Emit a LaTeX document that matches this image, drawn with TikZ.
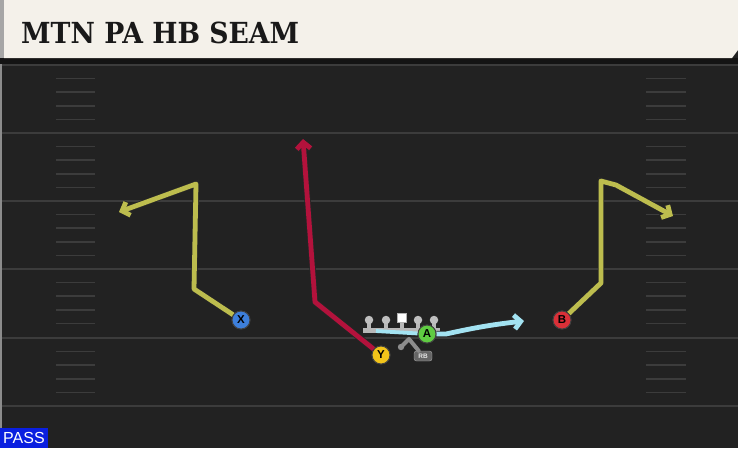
\documentclass[tikz,border=0pt]{standalone}
\usepackage{fontspec}
\setsansfont{Liberation Sans}
\newfontfamily\titlefont{DejaVu Serif}
\usetikzlibrary{arrows.meta}
\definecolor{field}{HTML}{222222}
\definecolor{fieldline}{HTML}{3C3C3C}
\definecolor{header}{HTML}{F4F1EA}
\definecolor{routeyel}{HTML}{BDBD4E}
\definecolor{routered}{HTML}{B3123C}
\definecolor{routecyan}{HTML}{A3E3F2}
\definecolor{xblue}{HTML}{3D7FDB}
\definecolor{yyellow}{HTML}{F3C41A}
\definecolor{agreen}{HTML}{5FCB42}
\definecolor{bred}{HTML}{DA3038}
\definecolor{passblue}{HTML}{0A1FE0}

\begin{document}
\begin{tikzpicture}[x=1pt,y=-1pt,
  route/.style={line width=4.8pt, line join=round, -{Straight Barb[length=6.5pt,width=14pt]},
    preaction={draw=black!85, line width=6.4pt}},
  player/.style={circle, draw=black!75, line width=0.9pt, minimum size=18pt, inner sep=0pt,
    font=\sffamily\bfseries\fontsize{11.5}{11.5}\selectfont},
  lineman/.style={circle, fill=black!25, inner sep=0pt, minimum size=8.5pt}]
  \useasboundingbox (0,0) rectangle (738,448);
  \fill[field] (0,0) rectangle (738,448);

  % yard lines and hashes
  \foreach \y in {65,133,201,269,338,406}
    \draw[fieldline, line width=2pt] (0,\y) -- (738,\y);
  \foreach \y in {65,133,201,269,338}
  {
    \foreach \k in {1,...,4}
    {
      \draw[fieldline, line width=1.6pt] (56,\y+13.6*\k) -- (95,\y+13.6*\k);
      \draw[fieldline, line width=1.6pt] (646,\y+13.6*\k) -- (686,\y+13.6*\k);
    }
  }
  \draw[black!45, line width=1.5pt] (1,64) -- (1,448);

  % header
  \fill[black!92] (0,58) rectangle (738,64);
  \fill[header] (4,0) -- (738,0) -- (738,50) -- (732,58) -- (4,58) -- cycle;
  \fill[black!35] (0,0) rectangle (4,58);
  \node[anchor=base west, inner sep=0pt, text=black!90,
    font=\titlefont\bfseries\fontsize{29}{29}\selectfont] (title) at (21,43)
    {\scalebox{0.92}[1]{MTN PA HB SEAM}};

  % offensive line
  \draw[black!28, line width=5pt] (363,330) -- (440,330);
  \foreach \x/\n in {369/lt,386/lg,418/rg,434/rt}
  {
    \draw[black!28, line width=3.5pt] (\x,321) -- (\x,330);
    \node[lineman] (\n) at (\x,320) {};
  }
  \draw[black!28, line width=3.5pt] (402,321) -- (402,330);
  \node[fill=white, draw=black!30, minimum size=9pt, inner sep=0pt] (center) at (402,318) {};

  % players
  \node[player, fill=xblue] (X) at (241,320) {X};
  \node[player, fill=yyellow] (Y) at (381,355) {Y};
  \node[player, fill=agreen] (A) at (427,334) {A};
  \node[player, fill=bred] (B) at (562,320) {B};
  \node[rounded corners=2.5pt, fill=black!60, draw=black!35, text=black!10, inner sep=0pt,
    minimum width=18pt, minimum height=10pt,
    font=\sffamily\bfseries\fontsize{6.5}{6.5}\selectfont] (RB) at (423,356) {RB};

  \coordinate (xbreak) at (194,289);
  \coordinate (xtop) at (196,184);
  \coordinate (xend) at (119,212);
  \coordinate (ybreak) at (315,302);
  \coordinate (yend) at (303,139);
  \coordinate (abase) at (376,331);
  \coordinate (abend) at (446,334);
  \coordinate (aend) at (524,321);
  \coordinate (bbreak) at (601,283);
  \coordinate (btop) at (601,181);
  \coordinate (bbend) at (616,185);
  \coordinate (bend) at (673,216);
  \coordinate (rbtop) at (409,339);
  \coordinate (rbend) at (401,347);

  % routes
  \draw[route, routeyel] (X) -- (xbreak) -- (xtop) -- (xend);
  \draw[route, routeyel] (B) -- (bbreak) -- (btop) -- (bbend) -- (bend);
  \draw[route, routered] (Y) -- (ybreak) -- (yend);
  \draw[routecyan, line width=3.8pt] (abase) -- (A);
  \draw[route, routecyan] (A) -- (abend) to[bend left=3] (aend);
  \draw[black!45, line width=4pt, line cap=round, line join=round] (RB) -- (rbtop) -- (rbend);
  \fill[black!45] (rbend) circle (3.2pt);
  \node[player, fill=agreen] at (A) {A};
  \node[player, fill=yyellow] at (Y) {Y};
  \node[player, fill=xblue] at (X) {X};
  \node[player, fill=bred] at (B) {B};

  % play type
  \node[anchor=south west, fill=passblue, text=white, inner xsep=3pt, inner ysep=2pt,
    minimum height=20pt, minimum width=45pt, font=\sffamily\fontsize{16}{16}\selectfont] (pass) at (0,448) {PASS};
\end{tikzpicture}
\end{document}
